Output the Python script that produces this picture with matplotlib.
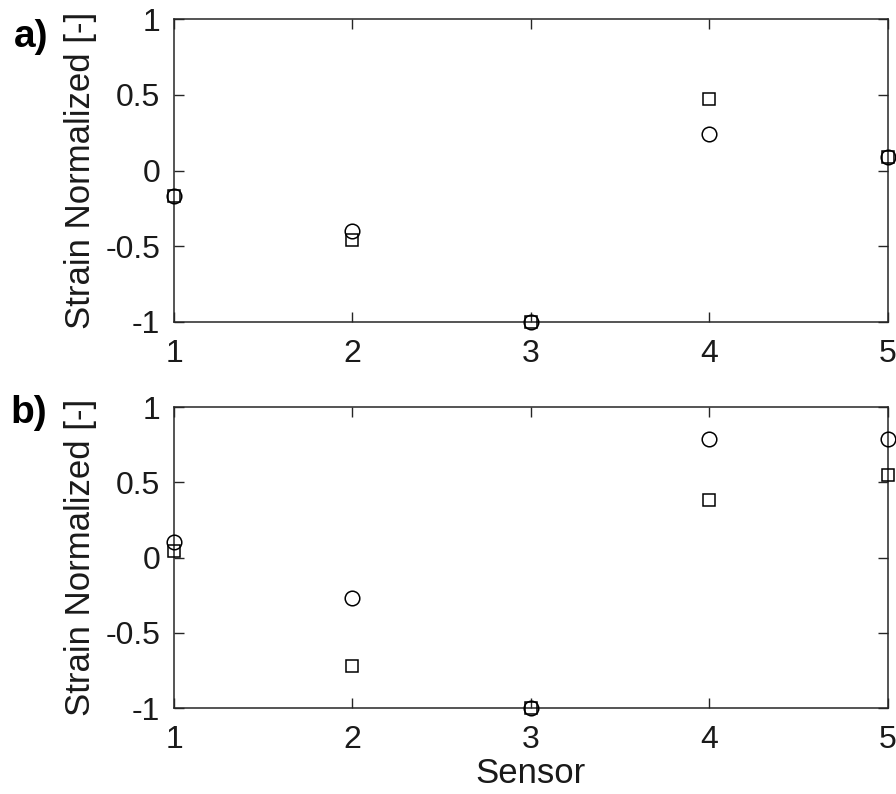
import matplotlib.pyplot as plt

plt.rcParams['font.family'] = ['Liberation Sans', 'DejaVu Sans']

sensors = [1, 2, 3, 4, 5]
a_circle = [-0.17, -0.40, -1.0, 0.24, 0.09]
a_square = [-0.17, -0.46, -1.0, 0.47, 0.09]
b_circle = [0.10, -0.27, -1.0, 0.79, 0.79]
b_square = [0.04, -0.72, -1.0, 0.38, 0.55]
yticks = [-1, -0.5, 0, 0.5, 1]
ytick_labels = ['-1', '-0.5', '0', '0.5', '1']

fig = plt.figure(figsize=(8.96, 7.94), dpi=100)
ax_a = fig.add_axes([0.1942, 0.5945, 0.7968, 0.3815])
ax_b = fig.add_axes([0.1942, 0.1083, 0.7968, 0.3791])

dark = '#262626'
for ax, circ, sq in [(ax_a, a_circle, a_square), (ax_b, b_circle, b_square)]:
    ax.plot(sensors, circ, 'o', mfc='none', mec='black', ms=10.5, mew=1.1, clip_on=False, zorder=3)
    ax.plot(sensors, sq, 's', mfc='none', mec='black', ms=8, mew=1.1, clip_on=False, zorder=3)
    ax.set_xlim(1, 5)
    ax.set_ylim(-1, 1)
    ax.set_xticks(sensors)
    ax.set_yticks(yticks)
    ax.set_yticklabels(ytick_labels)
    ax.tick_params(direction='in', length=7, width=1, colors=dark, labelcolor='#1a1a1a',
                   labelsize=23, top=True, right=True)
    ax.tick_params(axis='x', pad=12)
    ax.tick_params(axis='y', pad=10)
    for s in ax.spines.values():
        s.set_color(dark)
        s.set_linewidth(1.1)
    ax.set_ylabel('Strain Normalized [-]', fontsize=25, color='#1a1a1a')
    ax.yaxis.set_label_coords(-0.108, 0.5)

ax_b.set_xlabel('Sensor', fontsize=25, color='#1a1a1a', labelpad=2)

fig.text(0.016, 0.941, 'a)', fontsize=28, fontweight='bold', va='baseline')
fig.text(0.012, 0.4675, 'b)', fontsize=28, fontweight='bold', va='baseline')

fig.savefig('out.png', dpi=100)
